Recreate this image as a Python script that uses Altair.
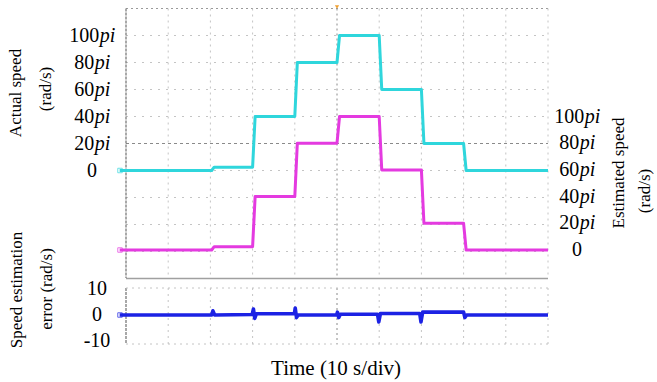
import altair as alt
import pandas as pd

# ---------------- data ----------------
# speed command change instants (s) and speed levels (in units of pi rad/s)
step_times = [20.3, 30.0, 40.0, 50.0, 60.0, 70.0, 80.0]
actual_levels = [0, 2.5, 40, 80, 100, 60, 20, 0]
estimated_levels = [0, 2.5, 40, 80, 100, 60, 20, 0]
ramp = 0.6
t_start, t_end = -1.5, 100.0

# speed estimation error (rad/s)
err_t = [-1.5, 20.3, 20.6, 21.0, 29.9, 30.2, 30.5, 30.9, 31.3, 39.9, 40.1, 40.4,
         40.8, 41.2, 49.9, 50.1, 50.4, 50.8, 59.6, 59.9, 60.3, 60.7, 69.6, 69.9,
         70.3, 70.7, 80.0, 80.3, 80.7, 100.0]
err_v = [0.0, 0.0, 1.6, 0.0, 0.2, 2.3, -1.3, 0.5, 0.5, 0.5, 2.7, -1.0,
         0.0, 0.0, 0.0, 1.1, -1.0, 0.3, 0.3, -2.7, 0.6, 0.6, 0.6, -2.7,
         1.1, 1.1, 1.1, -1.0, 0.0, 0.0]

speed_ticks = [0, 20, 40, 60, 80, 100]
err_ticks = [10, 0, -10]
grid_times = [10, 20, 30, 40, 60, 70, 80, 90]
grid_rows = [-60, -40, -20, 0, 40, 60, 80, 100]

FONT = "Liberation Serif"
CYAN = "#2fd6dc"
MAGENTA = "#e43ae0"
BLUE = "#1c22e4"


def step_trace(levels):
    ts = [t_start] + step_times + [t_end]
    rows = []
    for i, lvl in enumerate(levels):
        s = ts[i] + (ramp if i > 0 else 0)
        rows.append({"t": s, "v": lvl})
        rows.append({"t": ts[i + 1], "v": lvl})
    return pd.DataFrame(rows)


X = alt.Scale(domain=[0, 100], range=[126, 548])
Y_ACT = alt.Scale(domain=[0, 100], range=[170.5, 35.5])
Y_EST = alt.Scale(domain=[0, 100], range=[250, 116.5])
Y_ERR = alt.Scale(domain=[-10, 10], range=[341, 289])

layers = []

# ---------------- grid ----------------
hgrid = pd.DataFrame({"v": grid_rows})
layers.append(alt.Chart(hgrid).mark_rule(color="#c4c4c4", strokeDash=[2, 6], strokeWidth=1).encode(
    y=alt.Y("v:Q", scale=Y_ACT, axis=None), x=alt.value(126), x2=alt.value(548)))
# center horizontal line and top border
layers.append(alt.Chart(pd.DataFrame({"v": [20]})).mark_rule(color="#8a8a8a", strokeDash=[3, 3], strokeWidth=1).encode(
    y=alt.Y("v:Q", scale=Y_ACT, axis=None), x=alt.value(126), x2=alt.value(548)))
layers.append(alt.Chart(pd.DataFrame({"v": [120]})).mark_rule(color="#9a9a9a", strokeDash=[2, 3], strokeWidth=1).encode(
    y=alt.Y("v:Q", scale=Y_ACT, axis=None), x=alt.value(126), x2=alt.value(548)))
# bottom border of the top panel
layers.append(alt.Chart(pd.DataFrame({"v": [-80]})).mark_rule(color="#a0a0a0", strokeWidth=1.5).encode(
    y=alt.Y("v:Q", scale=Y_ACT, axis=None), x=alt.value(126), x2=alt.value(548)))

vgrid = pd.DataFrame({"t": grid_times})
for (y0, y1) in [(8.5, 278), (288, 344)]:
    layers.append(alt.Chart(vgrid).mark_rule(color="#c4c4c4", strokeDash=[2, 4], strokeWidth=1).encode(
        x=alt.X("t:Q", scale=X, axis=None), y=alt.value(y0), y2=alt.value(y1)))
    layers.append(alt.Chart(pd.DataFrame({"t": [50]})).mark_rule(color="#8a8a8a", strokeDash=[2, 3], strokeWidth=1).encode(
        x=alt.X("t:Q", scale=X, axis=None), y=alt.value(y0), y2=alt.value(y1)))
    layers.append(alt.Chart(pd.DataFrame({"t": [100]})).mark_rule(color="#c4c4c4", strokeDash=[2, 4], strokeWidth=1).encode(
        x=alt.X("t:Q", scale=X, axis=None), y=alt.value(y0), y2=alt.value(y1)))
    layers.append(alt.Chart(pd.DataFrame({"t": [0]})).mark_rule(color="#7a7a7a", strokeDash=[3, 1], strokeWidth=1.3).encode(
        x=alt.X("t:Q", scale=X, axis=None), y=alt.value(y0), y2=alt.value(y1)))
# bottom panel borders
for yb in [288, 344]:
    layers.append(alt.Chart(pd.DataFrame({"a": [0]})).mark_rule(color="#c4c4c4", strokeDash=[2, 4], strokeWidth=1).encode(
        x=alt.value(126), x2=alt.value(548), y=alt.value(yb)))

# trigger marker
layers.append(alt.Chart(pd.DataFrame({"t": [50]})).mark_point(shape="triangle-down", filled=True, color="#f0a030", size=18, opacity=1).encode(
    x=alt.X("t:Q", scale=X, axis=None), y=alt.value(7)))

# ---------------- traces ----------------
layers.append(alt.Chart(step_trace(actual_levels)).mark_line(color=CYAN, strokeWidth=3, strokeJoin="round").encode(
    x=alt.X("t:Q", scale=X, axis=None), y=alt.Y("v:Q", scale=Y_ACT, axis=None)))
layers.append(alt.Chart(step_trace(estimated_levels)).mark_line(color=MAGENTA, strokeWidth=3, strokeJoin="round").encode(
    x=alt.X("t:Q", scale=X, axis=None), y=alt.Y("v:Q", scale=Y_EST, axis=None)))
layers.append(alt.Chart(pd.DataFrame({"t": err_t, "v": err_v})).mark_line(color=BLUE, strokeWidth=3.6, strokeJoin="round").encode(
    x=alt.X("t:Q", scale=X, axis=None), y=alt.Y("v:Q", scale=Y_ERR, axis=None)))

# channel markers
for scale, col in [(Y_ACT, CYAN), (Y_EST, MAGENTA), (Y_ERR, BLUE)]:
    layers.append(alt.Chart(pd.DataFrame({"v": [0]})).mark_point(shape="square", filled=False, color=col, size=20, strokeWidth=1).encode(
        x=alt.value(120), y=alt.Y("v:Q", scale=scale, axis=None)))

# ---------------- tick labels ----------------
FS = 20
DIG = 0.5 * FS
PI_W = 0.78 * FS


def speed_label_layers(scale, center_x):
    out = []
    for v in speed_ticks:
        num = str(v)
        df = pd.DataFrame({"v": [v], "num": [num], "pi": ["pi"]})
        if v == 0:
            out.append(alt.Chart(df).mark_text(font=FONT, fontSize=FS, align="center", baseline="middle", color="black").encode(
                x=alt.value(center_x), y=alt.Y("v:Q", scale=scale, axis=None), text="num:N"))
            continue
        w_num = len(num) * DIG
        split = center_x - (w_num + PI_W) / 2 + w_num
        out.append(alt.Chart(df).mark_text(font=FONT, fontSize=FS, align="right", baseline="middle", color="black").encode(
            x=alt.value(split), y=alt.Y("v:Q", scale=scale, axis=None), text="num:N"))
        out.append(alt.Chart(df).mark_text(font=FONT, fontSize=FS, fontStyle="italic", align="left", baseline="middle", color="black").encode(
            x=alt.value(split + 0.5), y=alt.Y("v:Q", scale=scale, axis=None), text="pi:N"))
    return out


layers += speed_label_layers(Y_ACT, 92)
layers += speed_label_layers(Y_EST, 577)

for v in err_ticks:
    df = pd.DataFrame({"v": [v], "txt": [str(v)]})
    layers.append(alt.Chart(df).mark_text(font=FONT, fontSize=FS, align="center", baseline="middle", color="black").encode(
        x=alt.value(97), y=alt.Y("v:Q", scale=Y_ERR, axis=None), text="txt:N"))

# ---------------- titles ----------------
titles = [
    ("Actual speed", 16, 93, 270),
    ("(rad/s)", 46, 89, 270),
    ("Estimated speed", 619, 173, 270),
    ("(rad/s)", 645, 191, 270),
    ("Speed estimation", 17, 290, 270),
    ("error (rad/s)", 47, 289, 270),
]
for txt, tx, ty, ang in titles:
    layers.append(alt.Chart(pd.DataFrame({"txt": [txt]})).mark_text(
        font=FONT, fontSize=17, angle=ang, align="center", baseline="middle", color="black").encode(
        x=alt.value(tx), y=alt.value(ty), text="txt:N"))

layers.append(alt.Chart(pd.DataFrame({"txt": ["Time (10 s/div)"]})).mark_text(
    font=FONT, fontSize=21, align="center", baseline="middle", color="black").encode(
    x=alt.value(336), y=alt.value(369), text="txt:N"))

chart = alt.layer(*layers).resolve_scale(y="independent").properties(
    width=657, height=382, autosize=alt.AutoSizeParams(type="none"), padding=0,
    background="white",
).configure_view(stroke=None)

chart.save("out.html", embed_options={"renderer": "svg", "actions": False})
